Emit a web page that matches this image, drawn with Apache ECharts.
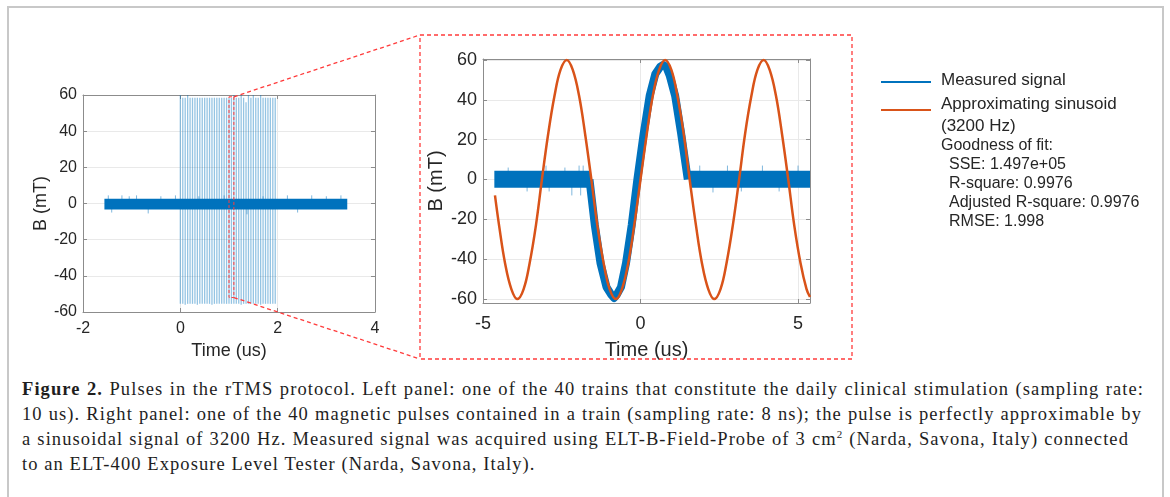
<!DOCTYPE html>
<html>
<head>
<meta charset="utf-8">
<title>Pulses in the rTMS protocol</title>
<script src="https://cdn.jsdelivr.net/npm/echarts@6/dist/echarts.min.js"></script>
<style>
html, body { margin: 0; padding: 0; background: #fff; overflow: hidden; width: 1170px; height: 497px; }
#frame { position: absolute; left: 7px; top: 6px; width: 1157px; height: 600px; border: 2px solid #c8c8c8; box-sizing: border-box; }
#main { position: absolute; left: 0; top: 0; width: 1170px; height: 372px; }
#caption { position: absolute; left: 22px; top: 377px; font-family: "Liberation Serif", "DejaVu Serif", serif; font-size: 18.5px; line-height: 25px; color: #1e1e1e; }
#caption div { white-space: nowrap; }
</style>
</head>
<body>
<div id="frame"></div>
<div id="main"></div>
<div id="caption">
  <div><b>Figure 2.</b> Pulses in the rTMS protocol. Left panel: one of the 40 trains that constitute the daily clinical stimulation (sampling rate:</div>
  <div>10 us). Right panel: one of the 40 magnetic pulses contained in a train (sampling rate: 8 ns); the pulse is perfectly approximable by</div>
  <div>a sinusoidal signal of 3200 Hz. Measured signal was acquired using ELT-B-Field-Probe of 3 cm<sup style="font-size:11px;line-height:0">2</sup> (Narda, Savona, Italy) connected</div>
  <div>to an ELT-400 Exposure Level Tester (Narda, Savona, Italy).</div>
</div>
<script>
// ---------- 左图：一个刺激序列 ----------
var leftXTicks = [-2, 0, 2, 4];
var leftYTicks = [-60, -40, -20, 0, 20, 40, 60];
// 噪声带 [起点, 终点, 下沿, 上沿]
var leftBand = [-1.56, 3.43, -3.3, 2.6];
// 40 个脉冲
var pulseX = [0.00, 0.05, 0.10, 0.15, 0.20, 0.25, 0.30, 0.35, 0.40, 0.45,
              0.50, 0.55, 0.60, 0.65, 0.70, 0.75, 0.80, 0.85, 0.90, 0.95,
              1.00, 1.05, 1.10, 1.15, 1.20, 1.25, 1.30, 1.35, 1.40, 1.45,
              1.50, 1.55, 1.60, 1.65, 1.70, 1.75, 1.80, 1.85, 1.90, 1.95];
var pulseTop = [60, 58.5, 58.5, 60, 58.5, 58.5, 58.5, 58.5, 58.5, 58.5,
                58.5, 58.5, 58.5, 58.5, 58.5, 58.5, 58.5, 58.5, 58.5, 58.5,
                58.5, 58.5, 60, 58.5, 58.5, 60, 58.5, 56, 60, 58.5,
                60, 58.5, 58.5, 60, 58.5, 58.5, 58.5, 58.5, 58.5, 58.5];
var pulseBottom = [-55.5, -55.5, -56, -55.5, -55.5, -55.5, -55.5, -56, -55.5, -55.5,
                   -55.5, -55.5, -55.5, -56, -55.5, -55.5, -55.5, -55.5, -55.5, -55.5,
                   -55.5, -55.5, -55.5, -55.5, -55.5, -56, -55.5, -55.5, -55.5, -55.5,
                   -55.5, -55.5, -55.5, -56, -55.5, -55.5, -55.5, -55.5, -55.5, -55.5];
// 噪声尖峰
var leftSpikeX = [-1.48, -1.41, -1.2, -1.05, -0.9, -0.66, -0.4, -0.1, 0.38, 0.9, 1.37, 1.7, 2.2, 2.41, 2.7, 3.0, 3.3];
var leftSpikeY = [4.5, -5, 4.5, 4, 4.5, -5.5, 4, 4.5, 4, 4.5, -6, 4, 4.5, -5, 4.5, 4, 4.5];
// 放大区域
var zoomBox = [1.0, 1.1, -52, 59];

// ---------- 右图：一个脉冲 ----------
var rightXTicks = [-5, 0, 5];
var rightYTicks = [-60, -40, -20, 0, 20, 40, 60];
var rightBandStart = [-4.64, 1.57];
var rightBandEnd = [-1.6, 5.38];
var rightBandLow = [-4.1, -4.1];
var rightBandHigh = [4.4, 4.4];
// 实测信号（脉冲部分）
var measuredX = [-1.62, -1.45, -1.27, -1.08, -0.92, -0.84, -0.76, -0.62, -0.46, -0.28, -0.1,
                 0.1, 0.29, 0.47, 0.62, 0.72, 0.82, 0.93, 1.1, 1.29, 1.5];
var measuredY = [0, -23, -42, -54, -58, -59.5, -58, -54, -42, -23, 0,
                 23, 42, 53, 56.5, 57.5, 56.5, 52, 42, 23, 0];
var rightSpikeX = [-4.2, -3.6, -3.0, -2.9, -2.4, -2.18, -1.95, -1.9, -1.82, 1.88, 2.3, 2.76, 3.2, 3.87, 4.4, 5.0];
var rightSpikeY = [6, -6, 7, -6, 6, -8, 7, -8, 7, 7, -6.5, 7, -6, 7, -6, 7];
// 拟合正弦 (3200 Hz)
var fitX = [-4.62, -4.49, -4.30, -4.10, -3.91, -3.71, -3.52, -3.32, -3.13, -2.93, -2.73, -2.54, -2.34,
            -2.15, -1.95, -1.76, -1.56, -1.37, -1.17, -0.98, -0.78, -0.59, -0.39, -0.20, 0,
            0.20, 0.39, 0.59, 0.78, 0.98, 1.17, 1.37, 1.56, 1.76, 1.95, 2.15, 2.34,
            2.54, 2.73, 2.93, 3.13, 3.32, 3.52, 3.71, 3.91, 4.10, 4.30, 4.49, 4.69,
            4.88, 5.08, 5.27, 5.38];
var fitY = [-8, -23, -42, -55, -60, -55, -42, -23, 0, 23, 42, 55, 60,
            55, 42, 23, 0, -23, -42, -55, -60, -55, -42, -23, 0,
            23, 42, 55, 60, 55, 42, 23, 0, -23, -42, -55, -60,
            -55, -42, -23, 0, 23, 42, 55, 60, 55, 42, 23, 0,
            -23, -42, -55, -59];

var legendNames = ['Measured signal', 'Approximating sinusoid', '(3200 Hz)'];
var fitStats = ['SSE: 1.497e+05', 'R-square: 0.9976', 'Adjusted R-square: 0.9976', 'RMSE: 1.998'];

var blue = '#0072BD', orange = '#D95319', axisGray = '#8c8c8c', textColor = '#262626';
var sans = '"Liberation Sans", Arial, sans-serif';

function zip(a, b) {
    var out = [];
    for (var i = 0; i < a.length; i++) out.push([a[i], b[i]]);
    return out;
}

// x 轴：下面带标签，上面只画框线和刻度
function xAxes(g, min, max, ticks, fs, nfs, margin, gap) {
    return [{
        type: 'value', gridIndex: g, min: min, max: max, position: 'bottom',
        axisLine: { show: true, onZero: false, lineStyle: { color: axisGray } },
        axisTick: { show: true, inside: true, length: 4, customValues: ticks, lineStyle: { color: axisGray } },
        axisLabel: { customValues: ticks, color: textColor, fontSize: fs, fontFamily: sans, margin: margin },
        splitLine: { show: true, lineStyle: { color: '#e9e9e9' } },
        name: 'Time (us)', nameLocation: 'middle', nameGap: gap,
        nameTextStyle: { color: textColor, fontSize: nfs, fontFamily: sans }
    }, {
        type: 'value', gridIndex: g, min: min, max: max, position: 'top',
        axisLine: { show: true, onZero: false, lineStyle: { color: axisGray } },
        axisTick: { show: true, inside: true, length: 4, customValues: ticks, lineStyle: { color: axisGray } },
        axisLabel: { show: false }, splitLine: { show: false }
    }];
}
function yAxes(g, min, max, ticks, fs, nfs, gap) {
    return [{
        type: 'value', gridIndex: g, min: min, max: max, position: 'left',
        axisLine: { show: true, onZero: false, lineStyle: { color: axisGray } },
        axisTick: { show: true, inside: true, length: 4, customValues: ticks, lineStyle: { color: axisGray } },
        axisLabel: { customValues: ticks, color: textColor, fontSize: fs, fontFamily: sans, margin: 6 },
        splitLine: { show: true, lineStyle: { color: '#e9e9e9' } },
        name: 'B (mT)', nameLocation: 'middle', nameGap: gap,
        nameTextStyle: { color: textColor, fontSize: nfs, fontFamily: sans }
    }, {
        type: 'value', gridIndex: g, min: min, max: max, position: 'right',
        axisLine: { show: true, onZero: false, lineStyle: { color: axisGray } },
        axisTick: { show: true, inside: true, length: 4, customValues: ticks, lineStyle: { color: axisGray } },
        axisLabel: { show: false }, splitLine: { show: false }
    }];
}

// 矩形带
function renderBand(params, api) {
    var p1 = api.coord([api.value(0), api.value(3)]);
    var p2 = api.coord([api.value(1), api.value(2)]);
    return {
        type: 'rect',
        shape: { x: p1[0], y: p1[1], width: p2[0] - p1[0], height: p2[1] - p1[1] },
        style: { fill: blue }
    };
}
// 竖线段
function segRenderer(color, width) {
    return function (params, api) {
        var a = api.coord([api.value(0), api.value(1)]);
        var b = api.coord([api.value(0), api.value(2)]);
        return {
            type: 'line',
            shape: { x1: a[0], y1: a[1], x2: b[0], y2: b[1] },
            style: { stroke: color, lineWidth: width }
        };
    };
}

var pulseData = [];
for (var i = 0; i < pulseX.length; i++) pulseData.push([pulseX[i], pulseBottom[i], pulseTop[i]]);
var leftSpikeData = [];
for (var i = 0; i < leftSpikeX.length; i++) leftSpikeData.push([leftSpikeX[i], 0, leftSpikeY[i]]);
var rightSpikeData = [];
for (var i = 0; i < rightSpikeX.length; i++) rightSpikeData.push([rightSpikeX[i], 0, rightSpikeY[i]]);
var rightBandData = [];
for (var i = 0; i < rightBandStart.length; i++) rightBandData.push([rightBandStart[i], rightBandEnd[i], rightBandLow[i], rightBandHigh[i]]);

var chart = echarts.init(document.getElementById('main'));

var option = {
    animation: false,
    grid: [
        { left: 83, top: 95, width: 292, height: 217 },
        { left: 483, top: 59, width: 327, height: 244 }
    ],
    xAxis: xAxes(0, -2, 4, leftXTicks, 16, 18, 9, 29).concat(xAxes(1, -5, 5.38, rightXTicks, 18, 20, 12, 37)),
    yAxis: yAxes(0, -60, 60, leftYTicks, 16, 18, 31).concat(yAxes(1, -62, 60.5, rightYTicks, 18, 20, 37)),
    series: [
        {
            name: 'Measured signal', type: 'custom', xAxisIndex: 0, yAxisIndex: 0,
            renderItem: segRenderer('rgba(0,114,189,0.42)', 1.3),
            encode: { x: 0, y: [1, 2] }, data: pulseData
        },
        {
            name: 'Measured signal', type: 'custom', xAxisIndex: 0, yAxisIndex: 0,
            renderItem: segRenderer('rgba(0,114,189,0.5)', 1),
            encode: { x: 0, y: [1, 2] }, data: leftSpikeData
        },
        {
            name: 'Measured signal', type: 'custom', xAxisIndex: 0, yAxisIndex: 0,
            renderItem: renderBand, encode: { x: [0, 1], y: [2, 3] },
            data: [leftBand]
        },
        {
            name: 'Measured signal', type: 'custom', xAxisIndex: 2, yAxisIndex: 2,
            renderItem: segRenderer('rgba(0,114,189,0.5)', 1),
            encode: { x: 0, y: [1, 2] }, data: rightSpikeData
        },
        {
            name: 'Measured signal', type: 'custom', xAxisIndex: 2, yAxisIndex: 2,
            renderItem: renderBand, encode: { x: [0, 1], y: [2, 3] },
            data: rightBandData
        },
        {
            name: 'Measured signal', type: 'line', xAxisIndex: 2, yAxisIndex: 2,
            data: zip(measuredX, measuredY), showSymbol: false,
            lineStyle: { color: blue, width: 8, cap: 'butt', join: 'round' }
        },
        {
            name: 'Approximating sinusoid (3200 Hz)', type: 'line', xAxisIndex: 2, yAxisIndex: 2,
            data: zip(fitX, fitY), showSymbol: false, smooth: 0.4,
            lineStyle: { color: orange, width: 2.5 }
        }
    ]
};
chart.setOption(option);

// 放大框与连线
var red = '#ff3b3b';
var zTop = chart.convertToPixel({ xAxisIndex: 0, yAxisIndex: 0 }, [zoomBox[0], zoomBox[3]]);
var zBot = chart.convertToPixel({ xAxisIndex: 0, yAxisIndex: 0 }, [zoomBox[1], zoomBox[2]]);
var graphics = [
    { type: 'rect', shape: { x: zTop[0], y: zTop[1], width: zBot[0] - zTop[0], height: zBot[1] - zTop[1] },
      style: { fill: 'none', stroke: red, lineWidth: 1, lineDash: [3, 2] }, z: 10 },
    { type: 'line', shape: { x1: zBot[0], y1: zTop[1], x2: 420, y2: 35 },
      style: { stroke: red, lineWidth: 1.3, lineDash: [4, 3] }, z: 10 },
    { type: 'line', shape: { x1: zBot[0], y1: zBot[1], x2: 420, y2: 359 },
      style: { stroke: red, lineWidth: 1.3, lineDash: [4, 3] }, z: 10 },
    { type: 'rect', shape: { x: 420, y: 35, width: 432, height: 324 },
      style: { fill: 'none', stroke: red, lineWidth: 1.3, lineDash: [4, 3] }, z: 10 },
    // 图例
    { type: 'line', shape: { x1: 881, y1: 82, x2: 931, y2: 82 }, style: { stroke: blue, lineWidth: 2 } },
    { type: 'line', shape: { x1: 881, y1: 110, x2: 931, y2: 110 }, style: { stroke: orange, lineWidth: 2 } }
];
var legendY = [80, 104, 126];
for (var i = 0; i < legendNames.length; i++) {
    graphics.push({ type: 'text', x: 941, y: legendY[i],
        style: { text: legendNames[i], fill: textColor, font: '17px ' + sans, verticalAlign: 'middle' } });
}
graphics.push({ type: 'text', x: 941, y: 146,
    style: { text: 'Goodness of fit:', fill: textColor, font: '16px ' + sans, verticalAlign: 'middle' } });
for (var i = 0; i < fitStats.length; i++) {
    graphics.push({ type: 'text', x: 949, y: 165 + i * 19,
        style: { text: fitStats[i], fill: textColor, font: '16px ' + sans, verticalAlign: 'middle' } });
}
chart.setOption({ graphic: graphics });

// 图注：按原图行宽调字距，前三行两端对齐
var lineEnds = [1122, 1120, 1107];
var capLines = document.querySelectorAll('#caption div');
var spacing = 3;
for (var i = 0; i < lineEnds.length; i++) {
    capLines[i].style.display = 'inline-block';
    var w = capLines[i].getBoundingClientRect().width;
    spacing = Math.min(spacing, (lineEnds[i] - w) / capLines[i].textContent.length);
    capLines[i].style.display = 'block';
}
document.getElementById('caption').style.letterSpacing = Math.max(0, spacing - 0.05) + 'px';
for (var i = 0; i < lineEnds.length; i++) {
    capLines[i].style.width = lineEnds[i] + 'px';
    capLines[i].style.textAlign = 'justify';
    capLines[i].style.textAlignLast = 'justify';
}
</script>
</body>
</html>
